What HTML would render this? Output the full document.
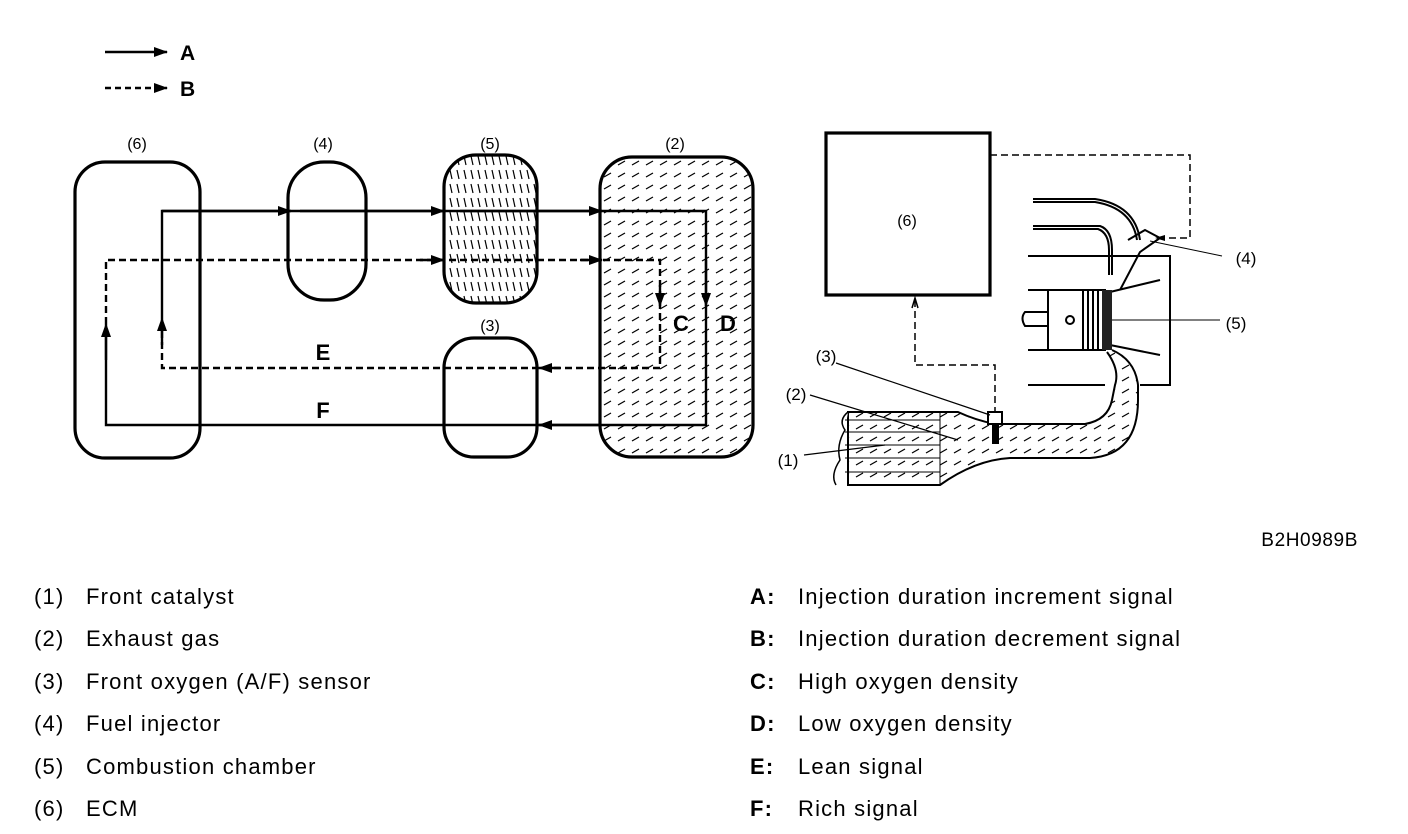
<!DOCTYPE html>
<html><head><meta charset="utf-8"><style>
html,body{margin:0;padding:0;background:#fff;}
svg{display:block;}
text{font-family:"Liberation Sans",Arial,sans-serif;fill:#000;}
</style></head><body>
<svg width="1408" height="834" viewBox="0 0 1408 834" xmlns="http://www.w3.org/2000/svg">
<defs>
<marker id="ah" markerWidth="14" markerHeight="10" refX="13" refY="5" orient="auto" markerUnits="userSpaceOnUse"><path d="M0,0 L14,5 L0,10 z" fill="#000"/></marker>
<pattern id="h1" width="14" height="12" patternUnits="userSpaceOnUse"><path d="M2,9 L9,5" stroke="#000" stroke-width="1.2"/></pattern>
<pattern id="h2" width="7" height="14" patternUnits="userSpaceOnUse"><path d="M2,2 L4,11" stroke="#000" stroke-width="1.2"/></pattern>
</defs>
<!-- legend -->
<line x1="105" y1="52" x2="167" y2="52" stroke="#000" stroke-width="2.5" marker-end="url(#ah)"/>
<text x="180" y="60" font-size="21" font-weight="bold">A</text>
<line x1="105" y1="88" x2="167" y2="88" stroke="#000" stroke-width="2.5" stroke-dasharray="6,4" marker-end="url(#ah)"/>
<text x="180" y="96" font-size="21" font-weight="bold">B</text>

<!-- left block diagram -->
<g fill="none" stroke="#000" stroke-width="3.2">
<rect x="75" y="162" width="125" height="296" rx="30"/>
<rect x="288" y="162" width="78" height="138" rx="36"/>
<rect x="444" y="155" width="93" height="148" rx="32" fill="url(#h2)"/>
<rect x="600" y="157" width="153" height="300" rx="32" fill="url(#h1)"/>
<rect x="444" y="338" width="93" height="119" rx="30" fill="#fff"/>
</g>
<g font-size="16" text-anchor="middle">
<text x="137" y="149">(6)</text><text x="323" y="149">(4)</text><text x="490" y="149">(5)</text><text x="675" y="149">(2)</text><text x="490" y="331">(3)</text>
</g>
<!-- solid A loop -->
<g fill="none" stroke="#000" stroke-width="2.4">
<path d="M162,318 L162,211 L706,211 L706,425 L106,425 L106,334"/>
<line x1="162" y1="211" x2="291" y2="211" marker-end="url(#ah)"/>
<line x1="300" y1="211" x2="444" y2="211" marker-end="url(#ah)"/>
<line x1="460" y1="211" x2="602" y2="211" marker-end="url(#ah)"/>
<line x1="706" y1="260" x2="706" y2="306" marker-end="url(#ah)"/>
<line x1="600" y1="425" x2="539" y2="425" marker-end="url(#ah)"/>
<line x1="106" y1="360" x2="106" y2="324" marker-end="url(#ah)"/>
</g>
<!-- dashed B loop -->
<g fill="none" stroke="#000" stroke-width="2.4" stroke-dasharray="7,4">
<path d="M106,324 L106,260 L660,260 L660,368 L162,368 L162,330"/>
</g>
<g fill="none" stroke="#000" stroke-width="2.4">
<line x1="420" y1="260" x2="444" y2="260" marker-end="url(#ah)"/>
<line x1="580" y1="260" x2="602" y2="260" marker-end="url(#ah)"/>
<line x1="660" y1="285" x2="660" y2="306" marker-end="url(#ah)"/>
<line x1="560" y1="368" x2="539" y2="368" marker-end="url(#ah)"/>
<line x1="162" y1="345" x2="162" y2="318" marker-end="url(#ah)"/>
</g>
<g font-size="22" font-weight="bold" text-anchor="middle">
<text x="681" y="331">C</text><text x="728" y="331">D</text><text x="323" y="360">E</text><text x="323" y="418">F</text>
</g>

<!-- right engine diagram -->
<rect x="826" y="133" width="164" height="162" fill="none" stroke="#000" stroke-width="3.2"/>
<text x="907" y="226" font-size="16" text-anchor="middle">(6)</text>
<path d="M990,155 L1190,155 L1190,238 L1158,238" fill="none" stroke="#000" stroke-width="1.5" stroke-dasharray="7,4"/>
<path d="M1165,235 L1155,238 L1165,241 z" fill="#000"/>
<path d="M915,300 L915,365 L995,365 L995,412" fill="none" stroke="#000" stroke-width="1.5" stroke-dasharray="7,4"/>
<path d="M912,308 L915,298 L918,308" fill="none" stroke="#000" stroke-width="1.5"/>
<g fill="none" stroke="#000" stroke-width="2">
<path d="M1033,199 L1095,199 Q1135,205 1140,240"/>
<path d="M1033,202 L1095,202 Q1132,208 1137,240"/>
<path d="M1033,226 L1100,226 Q1112,230 1112,250 L1112,275"/>
<path d="M1033,229 L1098,229 Q1109,233 1109,250 L1109,275"/>
<line x1="1028" y1="256" x2="1170" y2="256"/>
<line x1="1028" y1="290" x2="1048" y2="290"/>
<line x1="1028" y1="350" x2="1048" y2="350"/>
<line x1="1028" y1="385" x2="1105" y2="385"/>
<path d="M1105,256 L1170,256 L1170,385 L1140,385"/>
<rect x="1048" y="290" width="57" height="60"/>
<line x1="1083" y1="290" x2="1083" y2="350"/><line x1="1088" y1="290" x2="1088" y2="350"/><line x1="1093" y1="290" x2="1093" y2="350"/><line x1="1098" y1="290" x2="1098" y2="350"/>
<path d="M1048,312 L1025,312 Q1020,318 1025,326 L1048,326"/>
<circle cx="1070" cy="320" r="4"/>
<path d="M1128,240 L1145,230 L1160,238 L1140,252 L1120,290"/>
<path d="M1110,292 L1160,280"/><path d="M1110,345 L1160,355"/>
<line x1="1105" y1="320" x2="1220" y2="320" stroke-width="1"/>
<line x1="1150" y1="241" x2="1222" y2="256" stroke-width="1"/>
</g>
<rect x="1102" y="290" width="10" height="60" fill="#222"/>
<!-- exhaust pipe -->
<path d="M1107,352 Q1120,370 1115,385 L1112,400 Q1108,420 1085,424 L995,424 Q975,420 958,412 L848,412 L848,485 L940,485 Q975,460 1010,458 L1090,458 Q1138,455 1138,400 L1138,385 Q1135,360 1112,350" fill="url(#h1)" stroke="#000" stroke-width="2"/>
<path d="M848,412 Q838,420 845,430 Q836,445 840,460 Q830,475 836,485" fill="#fff" stroke="#000" stroke-width="1.5"/>
<g stroke="#000" stroke-width="1"><line x1="845" y1="420" x2="940" y2="420"/><line x1="845" y1="432" x2="940" y2="432"/><line x1="845" y1="445" x2="940" y2="445"/><line x1="845" y1="458" x2="940" y2="458"/><line x1="845" y1="472" x2="940" y2="472"/><line x1="940" y1="413" x2="940" y2="485"/></g>
<rect x="988" y="412" width="14" height="12" fill="#fff" stroke="#000" stroke-width="2"/>
<rect x="992" y="424" width="7" height="20" fill="#000"/>
<g stroke="#000" stroke-width="1.2">
<line x1="836" y1="363" x2="990" y2="415"/>
<line x1="810" y1="395" x2="958" y2="440"/>
<line x1="804" y1="455" x2="885" y2="445"/>
</g>
<g font-size="17" text-anchor="middle">
<text x="826" y="362">(3)</text><text x="796" y="400">(2)</text><text x="788" y="466">(1)</text><text x="1246" y="264">(4)</text><text x="1236" y="329">(5)</text>
</g>
<text x="1358" y="546" font-size="19" text-anchor="end" letter-spacing="0.6">B2H0989B</text>

<!-- legend text -->
<g font-size="22" letter-spacing="1.2">
<text x="34" y="604">(1)</text><text x="86" y="604">Front catalyst</text>
<text x="34" y="646">(2)</text><text x="86" y="646">Exhaust gas</text>
<text x="34" y="689">(3)</text><text x="86" y="689">Front oxygen (A/F) sensor</text>
<text x="34" y="731">(4)</text><text x="86" y="731">Fuel injector</text>
<text x="34" y="774">(5)</text><text x="86" y="774">Combustion chamber</text>
<text x="34" y="816">(6)</text><text x="86" y="816">ECM</text>
<g font-weight="bold"><text x="750" y="604">A:</text><text x="750" y="646">B:</text><text x="750" y="689">C:</text><text x="750" y="731">D:</text><text x="750" y="774">E:</text><text x="750" y="816">F:</text></g>
<text x="798" y="604">Injection duration increment signal</text>
<text x="798" y="646">Injection duration decrement signal</text>
<text x="798" y="689">High oxygen density</text>
<text x="798" y="731">Low oxygen density</text>
<text x="798" y="774">Lean signal</text>
<text x="798" y="816">Rich signal</text>
</g>
</svg>
</body></html>
